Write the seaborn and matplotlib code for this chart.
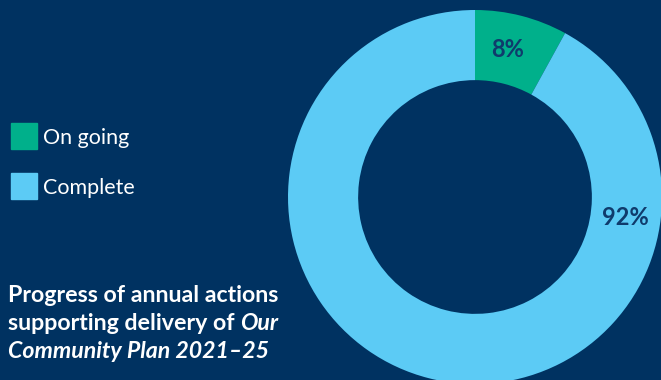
import matplotlib
matplotlib.use("Agg")
import matplotlib.pyplot as plt
import seaborn as sns
import numpy as np

# Data
categories = ["On going", "Complete"]
values = [8, 92]
labels = ["8%", "92%"]
# Title: each line is a list of (text, italic) runs
title_runs = [
    [("Progress of annual actions", False)],
    [("supporting delivery of ", False), ("Our", True)],
    [("Community Plan 2021–25", True)],
]

BG = "#003261"
colors = ["#00b08b", "#5ccbf5"]
LABEL_COLOR = "#0f3b6c"

sns.set_theme(style="white", rc={"figure.facecolor": BG, "axes.facecolor": BG})
plt.rcParams["font.family"] = ["Lato", "DejaVu Sans"]

W, H = 661, 380
fig = plt.figure(figsize=(W / 100, H / 100), dpi=100)
fig.patch.set_facecolor(BG)

# Donut axes (pixel geometry converted to figure fractions)
cx, cy, R = 475, 197, 187
ax = fig.add_axes([(cx - R) / W, (H - cy - R) / H, 2 * R / W, 2 * R / H])
ax.set_facecolor(BG)
wedges, _ = ax.pie(values, colors=colors, startangle=90, counterclock=False,
                   radius=1.0, wedgeprops=dict(width=0.375, linewidth=0))
ax.set_xlim(-1, 1)
ax.set_ylim(-1, 1)
ax.set_aspect("equal")
ax.axis("off")

# Value labels: small slice near its middle, large slice on the right side
pos = [(0.81, 77.5), (0.81, -7.6)]
for lab, (r, th) in zip(labels, pos):
    t = np.deg2rad(th)
    ax.text(r * np.cos(t), r * np.sin(t), lab, ha="center", va="center",
            fontsize=17, fontweight="bold", color=LABEL_COLOR)

# Legend
for i, (cat, col) in enumerate(zip(categories, colors)):
    y_top = 123 + i * 50
    fig.patches.append(plt.Rectangle((11 / W, 1 - (y_top + 26) / H), 26 / W, 26 / H,
                                     transform=fig.transFigure, color=col, zorder=3))
    fig.text(43 / W, 1 - (y_top + 21) / H, cat, fontsize=15.5, color="white",
             ha="left", va="baseline")

# Title block
renderer = fig.canvas.get_renderer()
for i, runs in enumerate(title_runs):
    x = 8
    for txt, italic in runs:
        t = fig.text(x / W, 1 - (302 + i * 28) / H, txt, fontsize=16.7, fontweight="bold",
                     fontstyle="italic" if italic else "normal",
                     color="white", ha="left", va="baseline")
        bb = t.get_window_extent(renderer=renderer)
        x += bb.width

fig.savefig("out.png", dpi=100, facecolor=BG)
